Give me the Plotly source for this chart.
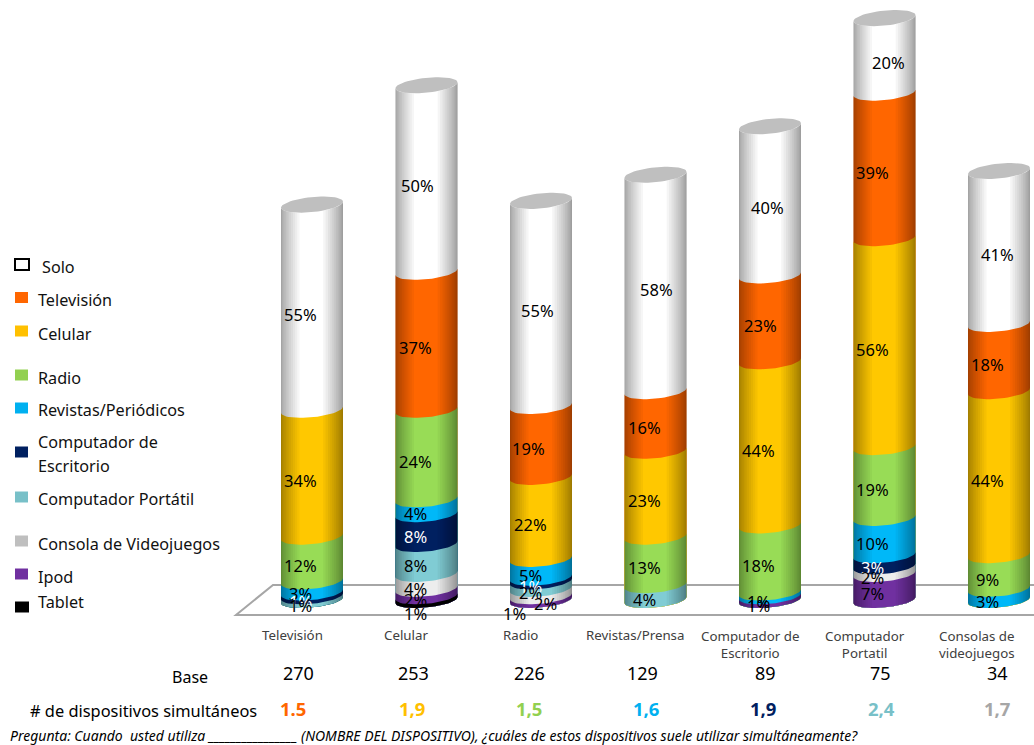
import numpy as np
import plotly.graph_objects as go

# Devices on the x axis
categories = ["Televisión", "Celular", "Radio", "Revistas/Prensa",
              "Computador de<br>Escritorio", "Computador<br>Portatil", "Consolas de<br>videojuegos"]
base_counts = ["270", "253", "226", "129", "89", "75", "34"]
simultaneous = ["1.5", "1,9", "1,5", "1,6", "1,9", "2,4", "1,7"]

# Share of answers per companion device, in percent
solo = [55, 50, 55, 58, 40, 20, 41]
television = [0, 37, 19, 16, 23, 39, 18]
celular = [34, 0, 22, 23, 44, 56, 44]
radio = [12, 24, 0, 13, 18, 19, 9]
revistas = [3, 4, 5, 0, 1, 10, 3]
comp_escritorio = [1, 8, 1, 0, 0, 3, 0]
comp_portatil = [1, 8, 2, 4, 0, 0, 0]
consola = [0, 4, 2, 0, 0, 2, 0]
ipod = [0, 2, 1, 0, 1, 7, 0]
tablet = [0, 1, 0, 0, 0, 0, 0]

series_names = ["Solo", "Televisión", "Celular", "Radio", "Revistas/Periódicos",
                "Computador de<br>Escritorio", "Computador Portátil",
                "Consola de Videojuegos", "Ipod", "Tablet"]
series_values = [solo, television, celular, radio, revistas,
                 comp_escritorio, comp_portatil, consola, ipod, tablet]
body_colors = ["#FFFFFF", "#FF6600", "#FFC800", "#98DC56", "#00B8F8",
               "#002060", "#80CCD4", "#EDEDED", "#7030A0", "#000000"]
swatch_colors = ["#FFFFFF", "#FF6600", "#FFC000", "#92D050", "#00B0F0",
                 "#002060", "#78C0C8", "#BFBFBF", "#7030A0", "#000000"]
count_colors = ["#FF6600", "#FFC000", "#92D050", "#00B0F0", "#002060", "#78C0C8", "#A6A6A6"]

FONT = "Noto Sans"
W, H = 1034, 745
X0, DX = 312.0, 114.5      # pixel centre of the first cylinder, cylinder spacing
Y0, SY = 600.0, 3.73       # pixel height of 0 %, pixels per percentage point
A = 31.0 / DX              # cylinder half width in x units
B = 7.5 / SY               # ellipse half height in y units
S = 3.0 / SY               # tilt of the ellipse: right side sits above the left
xrange = [-X0 / DX, (W - X0) / DX]
yrange = [(Y0 - H) / SY, Y0 / SY]


def front_arc(cx, level, t0=np.pi, t1=2 * np.pi, n=28):
    t = np.linspace(t0, t1, n)
    return cx + A * np.cos(t), level + B * np.sin(t) + S * np.cos(t)


def band(cx, low, high, t0=np.pi, t1=2 * np.pi):
    x1, y1 = front_arc(cx, low, t0, t1)
    x2, y2 = front_arc(cx, high, t0, t1)
    return list(x1) + list(x2[::-1]) + [x1[0], None], list(y1) + list(y2[::-1]) + [y1[0], None]


fig = go.Figure()
n_cols = len(categories)
totals = [sum(s[i] for s in series_values) for i in range(n_cols)]

# Stacked bodies: each series is painted from the floor up to its cumulative top,
# upper series first, so neighbouring bands never leave a seam.
for k, name in enumerate(series_names):
    xs, ys = [], []
    for i in range(n_cols):
        if series_values[k][i] == 0:
            continue
        top = sum(series_values[j][i] for j in range(k, len(series_values)))
        bx, by = band(i, 0, top)
        xs += bx
        ys += by
    fig.add_trace(go.Scatter(x=xs, y=ys, mode="lines", line=dict(width=0), fill="toself",
                             fillcolor=body_colors[k], hoverinfo="skip", showlegend=False))

# Rounded shading: nested translucent layers darken both cylinder edges
LAYERS = 12
for side, reach, alpha in (("left", 0.30, 0.035), ("right", 0.32, 0.04)):
    for layer in range(1, LAYERS + 1):
        frac = reach * (layer / LAYERS) ** 1.5
        xs, ys = [], []
        for i in range(n_cols):
            if side == "left":
                bx, by = band(i, 0, totals[i], np.pi, 2 * np.pi - np.arccos(2 * frac - 1))
            else:
                bx, by = band(i, 0, totals[i], 2 * np.pi - np.arccos(1 - 2 * frac), 2 * np.pi)
            xs += bx
            ys += by
        fig.add_trace(go.Scatter(x=xs, y=ys, mode="lines", line=dict(width=0), fill="toself",
                                 fillcolor=f"rgba(0,0,0,{alpha})", hoverinfo="skip",
                                 showlegend=False))

# Grey caps on top of every cylinder
xs, ys = [], []
for i in range(n_cols):
    t = np.linspace(0, 2 * np.pi, 60)
    xs += list(i + A * np.cos(t)) + [None]
    ys += list(totals[i] + B * np.sin(t) + S * np.cos(t)) + [None]
fig.add_trace(go.Scatter(x=xs, y=ys, mode="lines", line=dict(width=0), fill="toself",
                         fillcolor="#BFBFBF", hoverinfo="skip", showlegend=False))

annotations = []


def note(text, x, y, size, color="#000000", anchor="center", xref="paper", yref="paper",
         xshift=0, yshift=0, bold=False, italic=False, align="center"):
    if bold:
        text = f"<b>{text}</b>"
    if italic:
        text = f"<i>{text}</i>"
    annotations.append(dict(text=text, x=x, y=y, xref=xref, yref=yref, xshift=xshift, yshift=yshift,
                            showarrow=False, xanchor=anchor, yanchor="middle", align=align,
                            borderpad=0, borderwidth=0,
                            font=dict(family=FONT, size=size, color=color)))


# Percentage labels sit on the front of each band
column_dx = [-12, -11, -11, -11, -12, -12, -12]
label_nudges = {(0, 1): (2, 0), (0, 2): (-2, 0), (0, 3): (1, 0), (0, 4): (-2, 0),
                (0, 5): (4, 0), (1, 2): (-2, 0),
                (1, 4): (2, 0), (7, 2): (15, 4), (8, 2): (-16, 8), (9, 1): (0, 8)}
solo_dx = [0, 2, 7, 12, 9, 16, 10]
for i in range(n_cols):
    for k in range(len(series_values)):
        v = series_values[k][i]
        if v == 0:
            continue
        low = sum(series_values[j][i] for j in range(k + 1, len(series_values)))
        nx, ny = label_nudges.get((k, i), (0, 0))
        if k == 0:
            nx = solo_dx[i]
        note(f"{v}%", i, low + v / 2, 16.5, color="#FFFFFF" if k == 5 else "#000000",
             xref="x", yref="y", xshift=column_dx[i] + nx, yshift=-7 - ny)

# Category labels and the two rows below the floor
tick_dx = [-20, -21, -20.5, -21, -20, -20, -22]
base_dx = [-14, -13.5, -12, -13, -5, -4, -2]
count_dx = [-19, -14.5, -12, -10, -7, -3, -2]
for i in range(n_cols):
    two_lines = "<br>" in categories[i]
    note(categories[i], i, 1 - (644 if two_lines else 635) / H, 13.3, color="#404040", xref="x",
         xshift=tick_dx[i])
    note(base_counts[i], i, 1 - 673 / H, 18, xref="x", xshift=base_dx[i])
    note(simultaneous[i], i, 1 - 708 / H, 18.5, color=count_colors[i], xref="x", xshift=count_dx[i], bold=True)
note("Base", 190 / W, 1 - 677 / H, 16)
note("# de dispositivos simultáneos", 257 / W, 1 - 710 / H, 16.4, anchor="right")
note("Pregunta: Cuando  usted utiliza ________________ (NOMBRE DEL DISPOSITIVO), "
     "¿cuáles de estos dispositivos suele utilizar simultáneamente?",
     10 / W, 1 - 735 / H, 14, anchor="left", italic=True)

# Hand-placed key on the left
legend_text_y = [267, 300, 334, 378, 410, 454, 499, 544, 577, 602]
legend_box_y = [264.5, 297.5, 331, 375, 408, 452, 497, 541, 574, 607]
legend_text_x = [42, 38, 38, 38, 38, 38, 38, 38, 38, 38]
shapes = []
for k, name in enumerate(series_names):
    lines = name.split("<br>")
    for n, line in enumerate(lines):
        note(line, legend_text_x[k] / W, 1 - (legend_text_y[k] + 24 * (n - (len(lines) - 1) / 2)) / H,
             16.2, anchor="left", align="left", color="#111111")
    cy = legend_box_y[k]
    shapes.append(dict(type="rect", xref="paper", yref="paper", layer="above",
                       x0=15 / W, x1=(29 if k in (0, 9) else 28) / W,
                       y0=1 - (cy - 5.5) / H, y1=1 - (cy + 5.5) / H,
                       fillcolor=swatch_colors[k],
                       line=dict(color="#000000", width=2) if k == 0 else dict(width=0)))

# Perspective floor behind the cylinders
floor_x = [1034, 273, 236, 1034]
floor_y = [585, 585, 615, 615]
shapes.append(dict(type="path", xref="paper", yref="paper", layer="below",
                   path="M " + " L ".join(f"{x / W},{1 - y / H}" for x, y in zip(floor_x, floor_y)),
                   line=dict(color="#A6A6A6", width=2)))

fig.update_layout(
    width=W, height=H, margin=dict(l=0, r=0, t=0, b=0),
    paper_bgcolor="#FFFFFF", plot_bgcolor="#FFFFFF", showlegend=False,
    xaxis=dict(range=xrange, visible=False, fixedrange=True),
    yaxis=dict(range=yrange, visible=False, fixedrange=True),
    annotations=annotations, shapes=shapes,
)
fig.write_html("out.html", config={"displayModeBar": False})
